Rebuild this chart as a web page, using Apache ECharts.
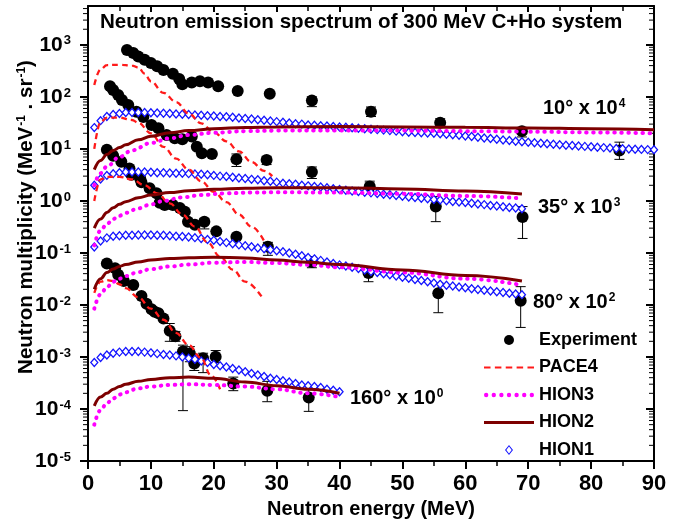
<!DOCTYPE html>
<html>
<head>
<meta charset="utf-8">
<title>Neutron emission spectrum</title>
<script src="https://cdn.jsdelivr.net/npm/echarts@6/dist/echarts.min.js"></script>
<style>
html, body { margin: 0; padding: 0; background: #fff; }
#chart { width: 684px; height: 525px; }
</style>
</head>
<body>
<div id="chart"></div>
<script>
// 实验点 [E, 值, 误差下限, 误差上限]
var exp10 = [[6.2,800],[7.2,700],[8.0,600],[9.0,520],[10.0,450],[11.0,390],[12.0,330],[13.5,280],[14.5,220],[15.0,175],
  [16.5,190],[17.8,200],[19.1,190],[20.7,160],[23.8,130],[28.9,115],[35.6,85,65,100],[45.0,52,42,64],[56.0,32,27,38],
  [69.0,22,17,26],[84.5,9.3,6.3,13.5]];
var exp35 = [[3.5,160],[4.0,136],[4.8,109],[5.4,87],[6.4,70],[7.7,52],[8.8,41],[10.1,29],[11.2,25],[12.5,18.6],
  [13.8,16],[15.0,15.3],[16.5,17.3],[17.3,11],[18.1,8.3],[19.7,8.0],[23.6,6.3,4.6,8],[28.4,6.1,5.0,7.2],
  [35.6,3.6,2.7,4.5],[44.8,1.9,1.4,2.4],[55.3,0.78,0.40,1.21],[69.1,0.49,0.19,0.78]];
var exp80 = [[3.0,9.6],[4.0,7.4],[5.3,5.7],[6.6,4.2],[6.9,3.2],[8.3,2.7],[8.5,2.3],[9.8,1.75],[10.9,1.4],[11.4,0.92],
  [12.2,0.84],[13.5,0.84],[14.6,0.73],[15.4,0.62],[15.9,0.40],[17.0,0.35],[18.5,0.40,0.29,0.46],[20.4,0.26],
  [23.6,0.206],[28.6,0.132,0.09,0.16],[35.6,0.067,0.052,0.082],[44.6,0.041,0.028,0.052],
  [55.7,0.0168,0.0071,0.0265],[68.8,0.0121,0.0037,0.0225]];
var exp160 = [[3.0,0.063],[4.3,0.051],[4.8,0.038],[5.7,0.029],[7.2,0.0243],[8.5,0.0149],[9.3,0.0105],[10.1,0.0083],
  [10.6,0.0074],[11.2,0.0069],[12.0,0.0055],[13.0,0.0032,0.0020,0.0044],[13.9,0.0025,0.0020,0.0031],
  [15.1,0.00127,0.000093,0.00169],[16.2,0.00117,0.00081,0.00158],[16.9,0.00075,0.00055,0.00095],
  [18.3,0.00095,0.0005,0.00118],[20.3,0.00101,0.00078,0.00133],[23.1,0.00031,0.000225,0.00041],
  [28.5,0.000225,0.000138,0.00034],[35.1,0.000167,0.00009,0.000239]];

// PACE4 [E, 值]
var pace10 = [[1,170],[2,340],[3,410],[5,415],[7,400],[8,370],[9,280],[10,200],[12,120],[14,80],[16,48],[18,31],
  [20,21],[22,14],[24,9],[26,5.6],[28,3.8],[29.3,3.0]];
var pace35 = [[1,10],[2,33],[3,40],[5,40],[7,36],[8,32],[10,20],[12,11],[14,6.5],[16,4],[18,2.4],[20,1.5],
  [22,0.95],[24,0.55],[26,0.32],[28,0.17]];
var pace80 = [[1,1.0],[2,2.6],[3,2.9],[5,2.9],[7,2.6],[9,2.0],[11,1.4],[13,0.9],[15,0.55],[17,0.32],[19,0.16],
  [21,0.085],[23,0.048],[25,0.028],[27.6,0.0145]];
var pace160 = [[1,0.017],[2,0.028],[3,0.03],[4,0.029],[5,0.025],[6,0.021],[8,0.014],[10,0.0085],[12,0.0052],
  [14,0.0029],[16,0.0017],[18,0.00095],[19.5,0.00045],[21,0.00024]];

// HION3
var hion3_10 = [[1,2.0],[2,3.4],[3,4.6],[5,7.0],[7,9.4],[10,13],[13,16],[16,18.5],[20,20.5],[25,22],[30,22.5],
  [40,22.5],[50,22.5],[60,22],[70,21.5],[80,20.8],[90,20]];
var hion3_35 = [[1,0.14],[2,0.27],[3,0.36],[4,0.45],[5,0.52],[6,0.59],[8,0.72],[10,0.86],[12,1.0],[15,1.17],
  [18,1.3],[22,1.4],[26,1.45],[30,1.47],[40,1.45],[50,1.37],[60,1.25],[69,1.12]];
var hion3_80 = [[1,0.0085],[2,0.016],[3,0.022],[4,0.028],[5,0.032],[6,0.036],[8,0.043],[10,0.049],[13,0.055],
  [16,0.06],[20,0.065],[25,0.067],[30,0.064],[35,0.059],[40,0.053],[50,0.042],[60,0.032],[69,0.024]];
var hion3_160 = [[1,0.00005],[2,0.000095],[3,0.00013],[4,0.00016],[5,0.00019],[6,0.00021],[8,0.00025],[10,0.00027],
  [13,0.00029],[16,0.0003],[20,0.00029],[25,0.00027],[30,0.00024],[35,0.0002],[40,0.00017]];

// HION2
var hion2_10 = [[1,4.0],[2,6],[3,7.8],[4,9.3],[5,10.6],[6,12],[8,15],[10,17.5],[13,20.5],[16,22.5],[20,24.5],
  [25,25.8],[30,26.5],[40,27],[50,26.5],[60,26],[70,25.3],[80,24.5],[90,23.5]];
var hion2_35 = [[1,0.30],[2,0.45],[3,0.6],[4,0.74],[5,0.86],[6,0.97],[8,1.15],[10,1.3],[13,1.45],[16,1.57],
  [20,1.68],[25,1.76],[30,1.8],[40,1.8],[50,1.7],[60,1.55],[69,1.36]];
var hion2_80 = [[1,0.02],[2,0.032],[3,0.042],[4,0.049],[5,0.055],[6,0.06],[8,0.067],[10,0.073],[13,0.078],
  [16,0.081],[20,0.083],[25,0.08],[30,0.073],[35,0.066],[40,0.06],[50,0.047],[60,0.037],[69,0.029]];
var hion2_160 = [[1,0.000115],[2,0.00017],[3,0.0002],[4,0.00024],[5,0.00027],[6,0.0003],[8,0.00034],[10,0.00037],
  [13,0.0004],[16,0.00041],[20,0.00039],[25,0.00033],[30,0.00028],[35,0.00024],[40,0.0002]];

// HION1，E = 1, 2, 3 ... MeV
var hion1_10 = [25.7,35,42,46,48,50,50,50,50,49.5, 49,48.5,48,47,46.5,46,45,44.5,43.5,43,
  42,41.5,40.5,39.5,38.5,37.5,36.5,35.5,34.5,33.5, 32.5,31.5,30.5,30,29,28.5,28,27.5,27,26.5,
  26,25.5,25,24.5,24,23.5,23,22.5,22,21.5, 21,20.8,20.5,20.2,20,19.6,19.2,18.8,18.3,17.8,
  17.3,16.8,16.3,15.8,15.3,14.9,14.5,14.1,13.8,13.5, 13.2,12.9,12.6,12.3,12.0,11.8,11.6,11.4,11.2,11.0,
  10.8,10.6,10.4,10.2,10.1,10.0,9.9,9.8,9.7,9.6];
var hion1_35 = [2.0,2.65,3.1,3.35,3.5,3.6,3.6,3.6,3.6,3.55, 3.5,3.5,3.45,3.4,3.4,3.35,3.3,3.25,3.2,3.1,
  3.0,2.95,2.85,2.75,2.7,2.6,2.55,2.45,2.4,2.3, 2.2,2.15,2.1,2.0,1.95,1.9,1.85,1.8,1.72,1.66,
  1.6,1.56,1.52,1.47,1.43,1.39,1.35,1.31,1.27,1.23, 1.19,1.16,1.13,1.1,1.07,1.04,1.01,0.98,0.95,0.93,
  0.9,0.87,0.85,0.82,0.8,0.77,0.75,0.73,0.71];
var hion1_80 = [0.13,0.17,0.195,0.21,0.215,0.22,0.22,0.222,0.222,0.222, 0.22,0.218,0.215,0.21,0.207,0.203,0.197,0.19,0.182,0.175,
  0.166,0.158,0.15,0.143,0.137,0.131,0.125,0.12,0.115,0.11, 0.106,0.1,0.094,0.088,0.082,0.077,0.072,0.067,0.063,0.059,
  0.056,0.053,0.05,0.047,0.044,0.042,0.04,0.038,0.036,0.034, 0.0325,0.031,0.0295,0.028,0.0265,0.025,0.024,0.0231,0.0222,0.0214,
  0.0206,0.0199,0.0192,0.0186,0.018,0.0174,0.0168,0.0163,0.0158];
var hion1_160 = [0.00078,0.00098,0.00109,0.00118,0.00124,0.00127,0.00128,0.00127,0.00124,0.0012,
  0.00116,0.00112,0.00109,0.00105,0.001,0.00095,0.0009,0.00084,0.00078,0.00072,
  0.00068,0.00064,0.0006,0.00056,0.00052,0.00048,0.00045,0.00042,0.00039,0.00037,
  0.00035,0.00033,0.00031,0.00029,0.00028,0.00027,0.00026,0.00024,0.00023,0.000215];

var yTickVals = [1e-5,1e-4,1e-3,1e-2,1e-1,1,10,100,1000];
var angleLabels = [
  { text: '10° x 10{s|4}', x: 543, y: 108 },
  { text: '35° x 10{s|3}', x: 538, y: 207 },
  { text: '80° x 10{s|2}', x: 533, y: 302 },
  { text: '160° x 10{s|0}', x: 350, y: 398 }
];

var FONT = '"Liberation Sans", Arial, sans-serif';
var yMin = 1e-5, yMax = 5600;

// 对数次刻度 2..9
var minorTicks = [];
for (var k = -5; k <= 3; k++) {
  for (var m = 2; m <= 9; m++) {
    var v = Number((m * Math.pow(10, k)).toPrecision(3));
    if (v < yMax) minorTicks.push([0, v]);
  }
}

function errBar(params, api) {
  var x = api.value(0);
  var p1 = api.coord([x, api.value(1)]);
  var p2 = api.coord([x, api.value(2)]);
  var st = { stroke: '#000', lineWidth: 1 };
  return { type: 'group', children: [
    { type: 'line', shape: { x1: p1[0], y1: p1[1], x2: p2[0], y2: p2[1] }, style: st },
    { type: 'line', shape: { x1: p1[0] - 5, y1: p1[1], x2: p1[0] + 5, y2: p1[1] }, style: st },
    { type: 'line', shape: { x1: p2[0] - 5, y1: p2[1], x2: p2[0] + 5, y2: p2[1] }, style: st }
  ]};
}

function minorTick(params, api) {
  var v = api.value(1);
  var a = api.coord([0, v]);
  var b = api.coord([90, v]);
  var st = { stroke: '#000', lineWidth: 1 };
  return { type: 'group', children: [
    { type: 'line', shape: { x1: a[0] - 5, y1: a[1], x2: a[0], y2: a[1] }, style: st },
    { type: 'line', shape: { x1: b[0] - 5, y1: b[1], x2: b[0], y2: b[1] }, style: st }
  ]};
}

function withE(vals) {
  return vals.map(function (v, i) { return [i + 1, v]; });
}

var series = [];
[exp10, exp35, exp80, exp160].forEach(function (d) {
  series.push({
    name: 'Experiment', type: 'scatter', symbol: 'circle', symbolSize: 12,
    itemStyle: { color: '#000', opacity: 1 },
    data: d.map(function (r) { return [r[0], r[1]]; })
  });
  series.push({
    type: 'custom', renderItem: errBar, silent: true, clip: false,
    encode: { x: 0, y: [1, 2] },
    data: d.filter(function (r) { return r.length > 2; }).map(function (r) { return [r[0], r[2], r[3]]; })
  });
});
[pace10, pace35, pace80, pace160].forEach(function (d) {
  series.push({
    name: 'PACE4', type: 'line', data: d, symbol: 'none', smooth: 0.4, smoothMonotone: 'x',
    lineStyle: { color: '#ff1a1a', width: 2.3, type: [6, 4] }, itemStyle: { color: '#ff1a1a' }
  });
});
[hion3_10, hion3_35, hion3_80, hion3_160].forEach(function (d) {
  series.push({
    name: 'HION3', type: 'line', data: d, symbol: 'none', smooth: 0.4, smoothMonotone: 'x',
    lineStyle: { color: '#ff00ff', width: 4, type: [0.5, 6.5], cap: 'round' }, itemStyle: { color: '#ff00ff' }
  });
});
[hion2_10, hion2_35, hion2_80, hion2_160].forEach(function (d) {
  series.push({
    name: 'HION2', type: 'line', data: d, symbol: 'none', smooth: 0.4, smoothMonotone: 'x',
    lineStyle: { color: '#7d0000', width: 3 }, itemStyle: { color: '#7d0000' }
  });
});
[hion1_10, hion1_35, hion1_80, hion1_160].forEach(function (d) {
  series.push({
    name: 'HION1', type: 'scatter', data: withE(d), symbol: 'diamond', symbolSize: [7, 8],
    itemStyle: { color: '#fff', borderColor: '#1414ff', borderWidth: 1.3, opacity: 1 }
  });
});
series.push({
  type: 'custom', renderItem: minorTick, silent: true, clip: false,
  encode: { x: 0, y: 1 }, data: minorTicks
});

// 图例图标
var dashIcon = 'path://';
for (var i = 0; i < 5; i++) dashIcon += 'M' + (i * 10) + ',0h6v2h-6z';
var dotIcon = 'path://';
for (var j = 0; j < 7; j++) dotIcon += 'M' + (j * 7) + ',2a2,2 0 1,1 4,0a2,2 0 1,1 -4,0z';
var solidIcon = 'path://M0,0h50v3h-50z';
var diamondIcon = 'path://M4,0L8,5L4,10L0,5Z M4,1.5L1.3,5L4,8.5L6.7,5Z';

var supRich = { s: { fontSize: 12, fontWeight: 'bold', fontFamily: FONT, color: '#000', verticalAlign: 'top', padding: [0, 0, 6, 1] } };

var graphics = angleLabels.map(function (a) {
  return {
    type: 'text', x: a.x, y: a.y, silent: true,
    style: { text: a.text, fontSize: 20, fontWeight: 'bold', fontFamily: FONT, fill: '#000',
      verticalAlign: 'middle', align: 'left', rich: supRich }
  };
});
graphics.push({
  type: 'text', x: 26, y: 217, rotation: Math.PI / 2, silent: true,
  style: { text: 'Neutron multiplicity (MeV{s|-1} . sr{s|-1})', fontSize: 20.5, fontWeight: 'bold', fontFamily: FONT,
    fill: '#000', align: 'center', verticalAlign: 'middle', rich: supRich }
});

var myChart = echarts.init(document.getElementById('chart'));
var option = {
  animation: false,
  backgroundColor: '#fff',
  title: {
    text: 'Neutron emission spectrum of 300 MeV C+Ho system',
    left: 100, top: 12, padding: 0,
    textStyle: { fontSize: 20.6, fontWeight: 'bold', fontFamily: FONT, color: '#000' }
  },
  grid: { left: 88, right: 30, top: 6, bottom: 64, containLabel: false, outerBoundsMode: 'none' },
  legend: {
    data: [
      { name: 'Experiment', icon: 'circle' },
      { name: 'PACE4', icon: dashIcon },
      { name: 'HION3', icon: dotIcon },
      { name: 'HION2', icon: solidIcon },
      { name: 'HION1', icon: diamondIcon, itemStyle: { color: '#1414ff' } }
    ],
    orient: 'vertical', left: 484, top: 331, padding: 0,
    itemWidth: 50, itemHeight: 10, itemGap: 9.5, selectedMode: false,
    itemStyle: { borderWidth: 0 },
    textStyle: { fontSize: 18, fontWeight: 'bold', fontFamily: FONT, color: '#000' }
  },
  xAxis: [{
    type: 'value', min: 0, max: 90, interval: 10, position: 'bottom',
    name: 'Neutron energy (MeV)', nameLocation: 'middle', nameGap: 38,
    nameTextStyle: { fontSize: 20, fontWeight: 'bold', fontFamily: FONT, color: '#000' },
    axisLine: { show: true, onZero: false, lineStyle: { color: '#000', width: 2 } },
    axisTick: { show: true, inside: false, length: 8, lineStyle: { color: '#000', width: 2 } },
    minorTick: { show: true, splitNumber: 2, length: 5, lineStyle: { color: '#000', width: 1.5 } },
    axisLabel: { margin: 12, fontSize: 22, fontWeight: 'bold', fontFamily: FONT, color: '#000' },
    splitLine: { show: false }
  }, {
    type: 'value', min: 0, max: 90, interval: 10, position: 'top',
    axisLine: { show: true, onZero: false, lineStyle: { color: '#000', width: 2 } },
    axisTick: { show: true, inside: true, length: 6, lineStyle: { color: '#000', width: 2 } },
    minorTick: { show: true, splitNumber: 2, length: 5, lineStyle: { color: '#000', width: 1.5 } },
    axisLabel: { show: false },
    splitLine: { show: false }
  }],
  yAxis: [{
    type: 'log', logBase: 10, min: yMin, max: yMax, splitNumber: 10, position: 'left',
    axisLine: { show: true, onZero: false, lineStyle: { color: '#000', width: 2 } },
    axisTick: { show: true, inside: false, length: 8, customValues: yTickVals, lineStyle: { color: '#000', width: 2 } },
    axisLabel: {
      margin: 17, customValues: yTickVals,
      formatter: function (v) {
        var e = Math.log10(v), r = Math.round(e);
        if (Math.abs(e - r) > 1e-6) return '';
        return '{b|10}{e|' + r + '}';
      },
      rich: {
        b: { fontSize: 21, fontWeight: 'bold', fontFamily: FONT, color: '#000' },
        e: { fontSize: 13, fontWeight: 'bold', fontFamily: FONT, color: '#000', verticalAlign: 'top', padding: [0, 0, 8, 1] }
      }
    },
    splitLine: { show: false }
  }, {
    type: 'log', logBase: 10, min: yMin, max: yMax, splitNumber: 10, position: 'right',
    axisLine: { show: true, onZero: false, lineStyle: { color: '#000', width: 2 } },
    axisTick: { show: true, inside: true, length: 8, customValues: yTickVals, lineStyle: { color: '#000', width: 2 } },
    axisLabel: { show: false },
    splitLine: { show: false }
  }],
  graphic: graphics,
  series: series
};
myChart.setOption(option);
</script>
</body>
</html>
